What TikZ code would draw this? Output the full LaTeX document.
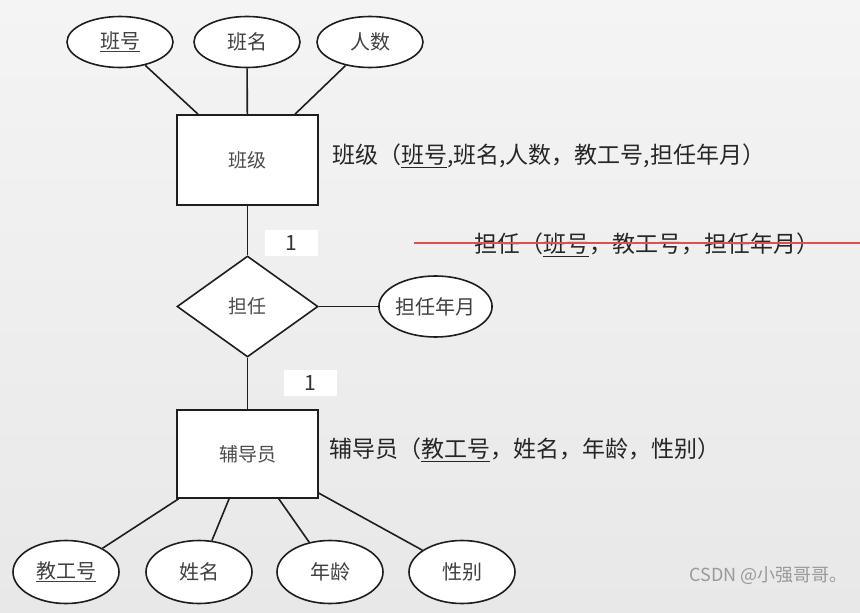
\documentclass[tikz,border=0pt]{standalone}
\usepackage{fontspec}
\setmainfont{Noto Sans CJK SC}
\usetikzlibrary{shapes.geometric}
\definecolor{linec}{RGB}{30,30,30}
\definecolor{strike}{RGB}{222,80,80}
\begin{document}
\begin{tikzpicture}[x=1pt,y=-1pt,
  ent/.style={draw=linec, line width=1.6pt, fill=white, minimum width=141pt, inner sep=0pt, text=black!70, font=\fontsize{19}{22}\selectfont},
  attr/.style={ellipse, draw=linec, line width=1.6pt, fill=white, inner sep=0pt, text=black!75, font=\fontsize{20}{24}\selectfont},
  rel/.style={diamond, draw=linec, line width=1.6pt, fill=white, inner sep=0pt, minimum width=141pt, minimum height=101pt, text=black!70, font=\fontsize{19}{22}\selectfont},
  lbl/.style={anchor=west, inner sep=0pt, text=black!85, font=\fontsize{23}{27}\selectfont},
  card/.style={fill=white, minimum width=53pt, minimum height=26pt, inner sep=0pt, text=black!80, font=\fontsize{21}{24}\selectfont},
  conn/.style={draw=linec, line width=1.6pt}]
\useasboundingbox (0,0) rectangle (860,613);
\shade[top color={rgb,255:red,244;green,244;blue,244}, bottom color={rgb,255:red,232;green,232;blue,232}] (0,0) rectangle (860,613);

% entities
\node[ent, minimum height=90pt] (bj) at (247.5,160) {班级};
\node[rel] (dr) at (247.5,306.5) {担任};
\node[ent, minimum height=88pt] (fdy) at (247.5,454) {辅导员};

% attributes
\node[attr, minimum width=106pt, minimum height=51pt] (bh) at (120,42) {\underline{班号}};
\node[attr, minimum width=106pt, minimum height=51pt] (bm) at (247,42) {班名};
\node[attr, minimum width=106pt, minimum height=51pt] (rs) at (370,42) {人数};
\node[attr, minimum width=105pt, minimum height=61pt] (nym) at (435.5,306.5) {担任年月};
\node[attr, minimum width=106pt, minimum height=63pt] (jgh) at (66,572) {\underline{教工号}};
\node[attr, minimum width=106pt, minimum height=63pt] (xm) at (199,572) {姓名};
\node[attr, minimum width=106pt, minimum height=63pt] (nl) at (330,572) {年龄};
\node[attr, minimum width=106pt, minimum height=63pt] (xb) at (462,572) {性别};

% connectors
\draw[conn] (bh) -- (bj);
\draw[conn] (bm) -- (bj);
\draw[conn] (rs) -- (bj);
\draw[conn] (bj) -- (dr);
\draw[conn] (dr) -- (nym);
\draw[conn] (dr) -- (fdy);
\draw[conn] (fdy) -- (jgh);
\draw[conn] (fdy) -- (xm);
\draw[conn] (fdy) -- (nl);
\draw[conn] (fdy) -- (xb);

% cardinalities
\node[card] (c1) at (291.5,243) {1};
\node[card] (c2) at (310,383) {1};

% relation schemas
\node[lbl] (l1) at (332,156) {班级（\underline{班号},班名,人数，教工号,担任年月）};
\node[lbl] (l2) at (474,245) {担任（\underline{班号}，教工号，担任年月）};
\node[lbl] (l3) at (329,450) {辅导员（\underline{教工号}，姓名，年龄，性别）};
\coordinate (s1) at (414,243);
\coordinate (s2) at (860,243);
\draw[strike, line width=1.2pt] (s1) -- (s2);

% watermark
\node[anchor=east, inner sep=0pt, text=black!40, font=\fontsize{18}{20}\selectfont] (wm) at (848,576) {CSDN @小强哥哥。};
\end{tikzpicture}
\end{document}
